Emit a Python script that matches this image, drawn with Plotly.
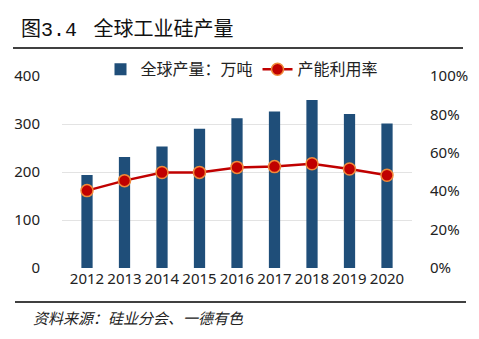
import plotly.graph_objects as go

years = ["2012", "2013", "2014", "2015", "2016", "2017", "2018", "2019", "2020"]
output = [194, 231, 253, 290, 312, 326, 350, 321, 301]
utilization = [0.403, 0.455, 0.497, 0.498, 0.524, 0.528, 0.543, 0.516, 0.483]

font_main = "Noto Sans, Noto Sans CJK SC, sans-serif"
font_cjk = "Noto Sans CJK SC, sans-serif"

fig = go.Figure()
fig.add_trace(go.Bar(
    x=years, y=output, name="全球产量：万吨",
    marker=dict(color="#1F4E79", line=dict(width=0)),
    width=0.3,
))
fig.add_trace(go.Scatter(
    x=years, y=utilization, name="产能利用率", yaxis="y2",
    mode="lines+markers",
    line=dict(color="#C00000", width=2.5),
    marker=dict(color="#C00000", size=12, line=dict(color="#F08A3A", width=1.5)),
))

fig.update_layout(
    width=479, height=339,
    margin=dict(l=62, r=67, t=76, b=71),
    paper_bgcolor="white", plot_bgcolor="white",
    font=dict(family=font_main, size=15, color="#222222"),
    showlegend=True,
    legend=dict(orientation="h", x=0.11, xanchor="left", y=1.035, yanchor="middle",
                font=dict(family=font_cjk, size=16, color="#222222"),
                bgcolor="rgba(0,0,0,0)", itemwidth=30, tracegroupgap=0),
    bargap=0.7,
    xaxis=dict(showgrid=False, showline=False, ticks="", tickfont=dict(size=15),
               ticklen=0),
    yaxis=dict(range=[0, 400], dtick=100, showgrid=True, gridcolor="#E3E3E3", gridwidth=1,
               zeroline=False, showline=False, ticks="outside", ticklen=18, tickcolor="rgba(0,0,0,0)",
               tickfont=dict(size=15)),
    yaxis2=dict(range=[0, 1], dtick=0.2, tickformat=".0%", overlaying="y", side="right",
                showgrid=False, zeroline=False, showline=False, ticks="outside", ticklen=14,
                tickcolor="rgba(0,0,0,0)", tickfont=dict(size=15)),
)

fig.add_annotation(text="图<span style='font-family:Liberation Mono'>3.4 </span> 全球工业硅产量",
                   xref="paper", yref="paper", x=-0.115, y=1.255,
                   xanchor="left", yanchor="middle", showarrow=False,
                   font=dict(family=font_cjk, size=20, color="#111111"), xshift=-3)
fig.add_annotation(text="<i>资料来源：硅业分会、一德有色</i>", xref="paper", yref="paper",
                   x=-0.09, y=-0.26, xanchor="left", yanchor="middle", showarrow=False,
                   font=dict(family=font_cjk, size=15, color="#222222"))

# rules under title and under axis labels
fig.add_shape(type="line", xref="paper", yref="paper", x0=-49/350, x1=401/350,
              y0=1 + 28/192, y1=1 + 28/192, line=dict(color="black", width=1.5))
fig.add_shape(type="line", xref="paper", yref="paper", x0=-47/350, x1=404/350,
              y0=-34/192, y1=-34/192, line=dict(color="black", width=1.5))

fig.write_html("out.html")
